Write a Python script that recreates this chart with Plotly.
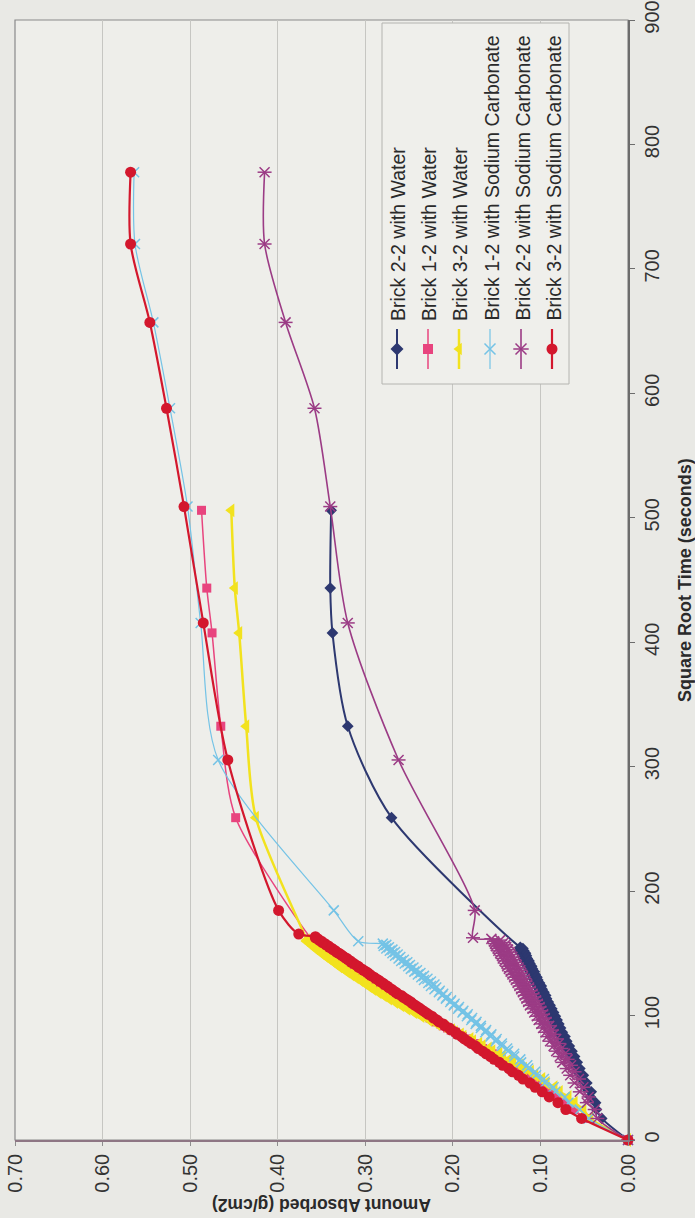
import plotly.graph_objects as go

# ---------------------------------------------------------------- data
# square-root time (s^0.5) of the closely spaced early readings
DENSE_T = [
    17.3, 24.5, 30.0, 34.6, 38.7, 42.4, 45.8, 49.0, 52.0, 54.8,
    57.4, 60.0, 62.4, 64.8, 67.1, 69.3, 71.4, 73.5, 75.5, 77.5,
    79.4, 81.2, 83.1, 84.9, 86.6, 88.3, 90.0, 91.7, 93.3, 94.9,
    96.4, 98.0, 99.5, 101.0, 102.5, 103.9, 105.4, 106.8, 108.2, 109.5,
    110.9, 112.2, 113.6, 114.9, 116.2, 117.5, 118.7, 120.0, 121.2, 122.5,
    123.7, 124.9, 126.1, 127.3, 128.5, 129.6, 130.8, 131.9, 133.0, 134.2,
    135.3, 136.4, 137.5, 138.6, 139.6, 140.7, 141.8, 142.8, 143.9, 144.9,
    145.9, 147.0, 148.0, 149.0, 150.0, 151.0, 152.0, 153.0, 153.9, 154.9,
    155.9, 156.8, 157.8, 158.7, 159.7, 160.6, 161.6, 162.5, 163.4,
]
WATER_T_LATE = [259.0, 332.5, 407.5, 443.5, 506.0]
B12SC_T_LATE = [159.7, 184.5, 305.4, 415.5, 509.0, 588.0, 657.0, 720.0, 777.7]
B22SC_T_LATE = [184.5, 305.4, 415.5, 509.0, 588.0, 657.0, 720.0, 777.7]
B32SC_T_LATE = [165.5, 184.5, 305.4, 415.5, 509.0, 588.0, 657.0, 720.0, 777.7]

# amount absorbed (g/cm2)
B22W_DENSE = [
    0.030, 0.036, 0.037, 0.043, 0.042, 0.049, 0.047, 0.053, 0.051, 0.057,
    0.055, 0.061, 0.058, 0.064, 0.061, 0.067, 0.064, 0.070, 0.067, 0.073,
    0.070, 0.075, 0.072, 0.078, 0.075, 0.080, 0.077, 0.082, 0.079, 0.085,
    0.081, 0.087, 0.083, 0.089, 0.085, 0.091, 0.087, 0.093, 0.089, 0.095,
    0.091, 0.097, 0.093, 0.098, 0.094, 0.100, 0.096, 0.102, 0.098, 0.103,
    0.099, 0.105, 0.101, 0.107, 0.103, 0.108, 0.104, 0.110, 0.106, 0.111,
    0.107, 0.113, 0.109, 0.114, 0.110, 0.116, 0.112, 0.117, 0.113, 0.119,
    0.115, 0.120, 0.116, 0.121, 0.117, 0.123, 0.119, 0.124, 0.120, 0.123,
]
B22W_LATE = [0.270, 0.320, 0.3375, 0.340, 0.339]

B12W_DENSE = [
    0.048, 0.062, 0.070, 0.080, 0.088, 0.096, 0.102, 0.110, 0.115, 0.122,
    0.127, 0.134, 0.139, 0.145, 0.150, 0.155, 0.160, 0.166, 0.170, 0.175,
    0.180, 0.184, 0.189, 0.194, 0.197, 0.202, 0.206, 0.211, 0.214, 0.219,
    0.222, 0.226, 0.230, 0.234, 0.237, 0.241, 0.244, 0.248, 0.251, 0.254,
    0.257, 0.260, 0.263, 0.266, 0.269, 0.272, 0.275, 0.278, 0.280, 0.283,
    0.285, 0.288, 0.290, 0.293, 0.295, 0.298, 0.300, 0.303, 0.305, 0.307,
    0.310, 0.312, 0.314, 0.317, 0.319, 0.321, 0.323, 0.326, 0.327, 0.330,
    0.331, 0.334, 0.336, 0.338, 0.340, 0.342, 0.343, 0.346, 0.347, 0.349,
    0.351, 0.353, 0.354, 0.357, 0.358, 0.360,
]
B12W_LATE = [0.448, 0.465, 0.475, 0.481, 0.487]

B32W_DENSE = [
    0.043, 0.051, 0.061, 0.068, 0.078, 0.084, 0.093, 0.098, 0.106, 0.111,
    0.119, 0.123, 0.131, 0.135, 0.143, 0.147, 0.155, 0.159, 0.166, 0.170,
    0.177, 0.180, 0.188, 0.191, 0.198, 0.201, 0.208, 0.211, 0.218, 0.220,
    0.227, 0.229, 0.236, 0.238, 0.244, 0.246, 0.252, 0.254, 0.259, 0.261,
    0.266, 0.267, 0.273, 0.274, 0.279, 0.280, 0.285, 0.286, 0.291, 0.291,
    0.296, 0.297, 0.301, 0.302, 0.306, 0.307, 0.311, 0.312, 0.316, 0.316,
    0.321, 0.321, 0.325, 0.326, 0.330, 0.330, 0.334, 0.334, 0.338, 0.338,
    0.342, 0.342, 0.346, 0.346, 0.350, 0.350, 0.353, 0.353, 0.357, 0.356,
    0.360, 0.360, 0.363, 0.363, 0.367, 0.367,
]
B32W_LATE = [0.425, 0.436, 0.444, 0.449, 0.453]

B12SC_DENSE = [
    0.045, 0.055, 0.068, 0.072, 0.083, 0.085, 0.095, 0.096, 0.105, 0.106,
    0.114, 0.115, 0.122, 0.123, 0.130, 0.130, 0.137, 0.138, 0.144, 0.144,
    0.151, 0.150, 0.157, 0.156, 0.163, 0.162, 0.168, 0.168, 0.174, 0.173,
    0.179, 0.178, 0.184, 0.183, 0.189, 0.188, 0.194, 0.193, 0.199, 0.198,
    0.203, 0.202, 0.208, 0.207, 0.212, 0.211, 0.216, 0.215, 0.221, 0.219,
    0.225, 0.221, 0.228, 0.225, 0.233, 0.229, 0.236, 0.233, 0.240, 0.237,
    0.244, 0.241, 0.248, 0.245, 0.251, 0.249, 0.255, 0.252, 0.259, 0.256,
    0.262, 0.260, 0.266, 0.263, 0.269, 0.266, 0.272, 0.269, 0.276, 0.273,
    0.279, 0.276, 0.280,
]
B12SC_LATE = [0.308, 0.336, 0.468, 0.488, 0.503, 0.523, 0.542, 0.563, 0.564]

B22SC_DENSE = [
    0.035, 0.038, 0.047, 0.045, 0.055, 0.051, 0.061, 0.056, 0.066, 0.061,
    0.070, 0.065, 0.075, 0.069, 0.078, 0.072, 0.082, 0.076, 0.085, 0.079,
    0.089, 0.082, 0.092, 0.085, 0.094, 0.087, 0.097, 0.090, 0.099, 0.093,
    0.102, 0.095, 0.104, 0.097, 0.107, 0.099, 0.109, 0.101, 0.112, 0.103,
    0.114, 0.105, 0.116, 0.107, 0.118, 0.109, 0.120, 0.111, 0.122, 0.113,
    0.124, 0.115, 0.126, 0.117, 0.128, 0.118, 0.130, 0.120, 0.132, 0.122,
    0.134, 0.123, 0.136, 0.125, 0.138, 0.127, 0.139, 0.129, 0.141, 0.130,
    0.143, 0.132, 0.144, 0.134, 0.146, 0.135, 0.148, 0.137, 0.149, 0.139,
    0.151, 0.140, 0.152, 0.142, 0.153, 0.146, 0.156, 0.177,
]
B22SC_LATE = [0.175, 0.262, 0.320, 0.340, 0.358, 0.391, 0.415, 0.415]

B32SC_DENSE = [
    0.053, 0.071, 0.080, 0.090, 0.098, 0.106, 0.112, 0.120, 0.125, 0.132,
    0.136, 0.143, 0.147, 0.153, 0.157, 0.162, 0.166, 0.171, 0.174, 0.179,
    0.183, 0.187, 0.190, 0.195, 0.197, 0.202, 0.204, 0.209, 0.211, 0.216,
    0.218, 0.222, 0.224, 0.228, 0.231, 0.234, 0.237, 0.240, 0.243, 0.246,
    0.248, 0.251, 0.254, 0.257, 0.259, 0.263, 0.265, 0.268, 0.270, 0.273,
    0.275, 0.278, 0.280, 0.283, 0.285, 0.288, 0.290, 0.293, 0.295, 0.297,
    0.299, 0.302, 0.304, 0.307, 0.308, 0.311, 0.313, 0.316, 0.317, 0.320,
    0.321, 0.324, 0.326, 0.328, 0.330, 0.333, 0.334, 0.337, 0.338, 0.341,
    0.342, 0.345, 0.346, 0.349, 0.350, 0.353, 0.354, 0.357, 0.357,
]
B32SC_LATE = [0.376, 0.399, 0.457, 0.485, 0.507, 0.527, 0.546, 0.568, 0.568]

SERIES_NAMES = [
    "Brick 2-2 with Water",
    "Brick 1-2 with Water",
    "Brick 3-2 with Water",
    "Brick 1-2 with Sodium Carbonate",
    "Brick 2-2 with Sodium Carbonate",
    "Brick 3-2 with Sodium Carbonate",
]
AMOUNT_TICKS = [0.0, 0.1, 0.2, 0.3, 0.4, 0.5, 0.6, 0.7]
TIME_TICKS = [0, 100, 200, 300, 400, 500, 600, 700, 800, 900]


def series(dense, t_late, late):
    t = [0.0] + DENSE_T[:len(dense)] + t_late
    a = [0.0] + dense + late
    return t, a


DATA = [
    series(B22W_DENSE, WATER_T_LATE, B22W_LATE),
    series(B12W_DENSE, WATER_T_LATE, B12W_LATE),
    series(B32W_DENSE, WATER_T_LATE, B32W_LATE),
    series(B12SC_DENSE, B12SC_T_LATE, B12SC_LATE),
    series(B22SC_DENSE, B22SC_T_LATE, B22SC_LATE),
    series(B32SC_DENSE, B32SC_T_LATE, B32SC_LATE),
]

# ---------------------------------------------------------------- styling
FONT = "Liberation Sans, Arial, sans-serif"
COLORS = ["#2d3870", "#e8447e", "#f2e21e", "#74c3e6", "#9b3b85", "#d3172d"]
SYMBOLS = ["diamond", "square", "triangle-left", "x-thin-open", "x-thin-open", "circle"]
SIZES = [9, 9, 12, 10, 10, 11]
LINE_W = [2.0, 1.5, 2.5, 1.2, 1.6, 2.2]

W, H = 695, 1218
L, R, T, B = 15, 67, 20, 78          # plot area: x 15..628, y 20..1140
PX0, PX1, PY0, PY1 = L, W - R, T, H - B


def paper_x(px):
    return (px - PX0) / (PX1 - PX0)


def paper_y(py):
    return (PY1 - py) / (PY1 - PY0)


fig = go.Figure()

for i, (t, a) in enumerate(DATA):
    c = COLORS[i]
    open_sym = SYMBOLS[i].endswith("open")
    fig.add_trace(go.Scatter(
        x=a, y=t, mode="lines+markers", name=SERIES_NAMES[i],
        line=dict(color=c, width=LINE_W[i], shape="spline", smoothing=0.8),
        marker=dict(symbol=SYMBOLS[i], size=SIZES[i], color=c,
                    line=dict(color=c, width=1.5 if open_sym else 0)),
        cliponaxis=False, showlegend=False, hoverinfo="skip",
    ))
    if i == 4:
        # the star marker: an x crossed by a bar
        fig.add_trace(go.Scatter(
            x=a, y=t, mode="markers",
            marker=dict(symbol="line-ew-open", size=10, color=c, line=dict(color=c, width=1.5)),
            cliponaxis=False, showlegend=False, hoverinfo="skip",
        ))

# ---------------------------------------------------------------- legend (drawn rotated, pixel axes x2/y2)
LEG_X0, LEG_X1, LEG_Y0, LEG_Y1 = 382, 569, 23, 384
fig.add_trace(go.Scatter(
    x=[LEG_X0, LEG_X1, LEG_X1, LEG_X0, LEG_X0], y=[LEG_Y0, LEG_Y0, LEG_Y1, LEG_Y1, LEG_Y0],
    xaxis="x2", yaxis="y2", mode="lines", fill="toself", fillcolor="#efefeb",
    line=dict(color="#b4b4b0", width=1), showlegend=False, hoverinfo="skip",
))

annotations = []
for i, name in enumerate(SERIES_NAMES):
    cx = 397 + 31 * i
    c = COLORS[i]
    open_sym = SYMBOLS[i].endswith("open")
    fig.add_trace(go.Scatter(
        x=[cx, cx], y=[329, 369], xaxis="x2", yaxis="y2", mode="lines",
        line=dict(color=c, width=LINE_W[i]), showlegend=False, hoverinfo="skip",
    ))
    fig.add_trace(go.Scatter(
        x=[cx], y=[349], xaxis="x2", yaxis="y2", mode="markers",
        marker=dict(symbol=SYMBOLS[i], size=min(SIZES[i], 10) + 1, color=c,
                    line=dict(color=c, width=1.5 if open_sym else 0)),
        showlegend=False, hoverinfo="skip",
    ))
    if i == 4:
        fig.add_trace(go.Scatter(
            x=[cx], y=[349], xaxis="x2", yaxis="y2", mode="markers",
            marker=dict(symbol="line-ew-open", size=11, color=c, line=dict(color=c, width=1.5)),
            showlegend=False, hoverinfo="skip",
        ))
    annotations.append(dict(
        xref="paper", yref="paper", x=paper_x(cx + 1), y=paper_y(323), text=name,
        showarrow=False, textangle=-90, xanchor="center", yanchor="bottom",
        font=dict(family=FONT, size=19.5, color="#2a2a2a"),
    ))

# axis titles
annotations.append(dict(
    xref="paper", yref="paper", x=0.5, y=paper_y(1205), text="<b>Amount Absorbed (g/cm2)</b>",
    showarrow=False, textangle=180, xanchor="center", yanchor="middle",
    font=dict(family=FONT, size=17.5, color="#2a2a2a"),
))
annotations.append(dict(
    xref="paper", yref="paper", x=paper_x(685), y=0.5, text="<b>Square Root Time (seconds)</b>",
    showarrow=False, textangle=-90, xanchor="center", yanchor="middle",
    font=dict(family=FONT, size=18, color="#2a2a2a"),
))

shapes = [
    dict(type="rect", xref="paper", yref="paper", x0=0, x1=1, y0=0, y1=1,
         line=dict(color="#8a8a8a", width=1.2), layer="below"),
]

fig.update_layout(
    width=W, height=H, autosize=False,
    margin=dict(l=L, r=R, t=T, b=B, pad=0, autoexpand=False),
    paper_bgcolor="#e9e9e5", plot_bgcolor="#eeeeea",
    showlegend=False,
    font=dict(family=FONT, color="#333333"),
    xaxis=dict(
        range=[0.70, 0.0], tickvals=AMOUNT_TICKS, tickformat=".2f",
        tickangle=-90, tickfont=dict(size=20, color="#333333"),
        showgrid=True, gridcolor="#c6c6c2", gridwidth=1, zeroline=False,
        showline=True, linecolor="#8e7684", linewidth=1.5,
        ticks="outside", ticklen=4, tickcolor="#8e8e8e", automargin=False,
    ),
    yaxis=dict(
        range=[0, 900], tickvals=TIME_TICKS, side="right",
        tickangle=-90, tickfont=dict(size=20, color="#333333"),
        showgrid=False, zeroline=False,
        showline=True, linecolor="#6c6c6c", linewidth=1.5,
        ticks="outside", ticklen=5, tickcolor="#6c6c6c", automargin=False,
    ),
    xaxis2=dict(overlaying="x", range=[PX0, PX1], visible=False, fixedrange=True),
    yaxis2=dict(overlaying="y", range=[PY1, PY0], visible=False, fixedrange=True),
    shapes=shapes,
    annotations=annotations,
)

fig.write_html("out.html")
